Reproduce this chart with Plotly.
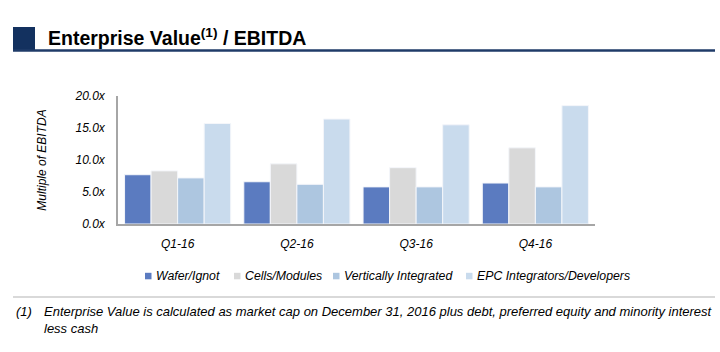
import plotly.graph_objects as go

quarters = ["Q1-16", "Q2-16", "Q3-16", "Q4-16"]
series_names = ["Wafer/Ignot", "Cells/Modules", "Vertically Integrated", "EPC Integrators/Developers"]
wafer_ignot = [7.7, 6.6, 5.8, 6.4]
cells_modules = [8.3, 9.4, 8.8, 11.9]
vertically_integrated = [7.2, 6.2, 5.8, 5.8]
epc_integrators = [15.7, 16.4, 15.5, 18.5]
series_values = [wafer_ignot, cells_modules, vertically_integrated, epc_integrators]
colors = ["#5B7BC0", "#D9D9D9", "#ADC6E0", "#C9DBED"]
y_ticks = [0, 5, 10, 15, 20]
y_tick_labels = ["0.0x", "5.0x", "10.0x", "15.0x", "20.0x"]

title_text = "<b>Enterprise Value<sup>(1)</sup> / EBITDA</b>"
y_title = "Multiple of EBITDA"
footnote_mark = "(1)"
footnote_text = ("Enterprise Value is calculated as market cap on December 31, 2016 plus debt, "
                 "preferred equity and minority interest<br>less cash")

W, H = 720, 352
X0, X1 = 118, 595   # plot area left/right in px
Y0, Y1 = 96, 224    # plot area top/bottom in px


def px(x):
    return (x - X0) / (X1 - X0)


def py(y):
    return (Y1 - y) / (Y1 - Y0)


fig = go.Figure()
for name, vals, col in zip(series_names, series_values, colors):
    fig.add_trace(go.Bar(
        x=quarters, y=vals, name=name, marker_color=col,
        marker_line=dict(color="#F4F6FA", width=1), showlegend=False,
    ))

shapes = []
annotations = []

# Title decoration
NAVY = "#13315F"
shapes.append(dict(type="rect", xref="paper", yref="paper",
                   x0=px(13), x1=px(35), y0=py(50), y1=py(27),
                   fillcolor=NAVY, line=dict(width=0), layer="above"))
shapes.append(dict(type="line", xref="paper", yref="paper",
                   x0=px(13), x1=px(715), y0=py(50.5), y1=py(50.5),
                   line=dict(color="#1F3B68", width=2.5)))

# Manual legend
legend_sq_x = [145, 234, 333, 466]
legend_y = 276
for name, col, sx in zip(series_names, colors, legend_sq_x):
    shapes.append(dict(type="rect", xref="paper", yref="paper",
                       x0=px(sx), x1=px(sx + 6.5), y0=py(legend_y + 3.3), y1=py(legend_y - 3.2),
                       fillcolor=col, line=dict(width=0)))
    annotations.append(dict(xref="paper", yref="paper", x=px(sx + 9), y=py(legend_y),
                            xanchor="left", yanchor="middle", showarrow=False, text=name,
                            font=dict(family="Liberation Sans", size=12.3, color="#000000", style="italic")))

# Footnote
shapes.append(dict(type="line", xref="paper", yref="paper",
                   x0=px(13), x1=px(715), y0=py(297), y1=py(297),
                   line=dict(color="#D9D9D9", width=2)))
annotations.append(dict(xref="paper", yref="paper", x=px(14), y=py(302),
                        xanchor="left", yanchor="top", showarrow=False, text=footnote_mark,
                        font=dict(family="Liberation Sans", size=13, color="#000000", style="italic")))
annotations.append(dict(xref="paper", yref="paper", x=px(42), y=py(302),
                        xanchor="left", yanchor="top", showarrow=False, text=footnote_text,
                        align="left",
                        font=dict(family="Liberation Sans", size=13, color="#000000", style="italic")))

fig.update_layout(
    width=W, height=H,
    margin=dict(l=X0, r=W - X1, t=Y0, b=H - Y1, pad=0),
    paper_bgcolor="white", plot_bgcolor="white",
    barmode="group", bargap=0.11, bargroupgap=0,
    title=dict(text=title_text, x=48 / W, xref="container", xanchor="left",
               y=1 - 38 / H, yref="container", yanchor="middle",
               font=dict(family="Liberation Sans", size=19.5, color="#000000")),
    shapes=shapes, annotations=annotations,
    xaxis=dict(showline=True, linecolor="#A6A6A6", linewidth=1.5, showgrid=False,
               ticks="outside", ticklen=8, tickcolor="rgba(0,0,0,0)",
               tickfont=dict(family="Liberation Sans", size=12, color="#000000", style="italic")),
    yaxis=dict(range=[0, 20], tickvals=y_ticks, ticktext=y_tick_labels,
               showline=True, linecolor="#A6A6A6", linewidth=1.5, showgrid=False, zeroline=False,
               ticks="outside", ticklen=9, tickcolor="rgba(0,0,0,0)",
               tickfont=dict(family="Liberation Sans", size=12, color="#000000", style="italic"),
               title=dict(text=y_title, standoff=25,
                          font=dict(family="Liberation Sans", size=12, color="#000000", style="italic"))),
)

fig.write_html("out.html")
